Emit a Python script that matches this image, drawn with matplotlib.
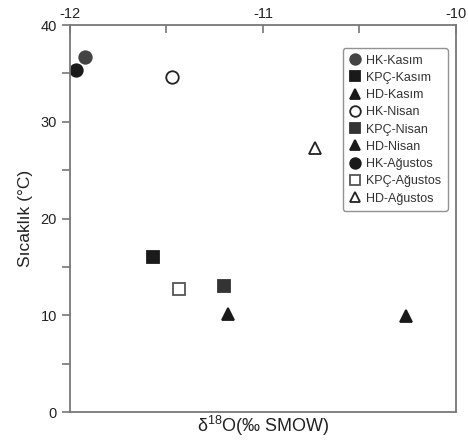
import matplotlib
matplotlib.use("Agg")
from matplotlib import pyplot as plt
from matplotlib.ticker import MultipleLocator

plt.rcParams["font.family"] = ["Liberation Sans", "DejaVu Sans"]

# series: label, x (d18O), y (temperature)
labels = ["HK-Kasım", "KPÇ-Kasım", "HD-Kasım",
          "HK-Nisan", "KPÇ-Nisan", "HD-Nisan",
          "HK-Ağustos", "KPÇ-Ağustos", "HD-Ağustos"]
x_vals = [-11.92, -11.57, -11.18,
          -11.47, -11.20, -10.26,
          -11.97, -11.435, -10.73]
y_vals = [36.7, 16.0, 10.1,
          34.6, 13.0, 9.9,
          35.4, 12.7, 27.3]

markers = ["o", "s", "^", "o", "s", "^", "o", "s", "^"]
faces = ["#444444", "#1a1a1a", "#1a1a1a",
         "white", "#333333", "#1a1a1a",
         "#1a1a1a", "white", "white"]
edges = ["#444444", "#1a1a1a", "#1a1a1a",
         "#222222", "#333333", "#1a1a1a",
         "#1a1a1a", "#555555", "#222222"]

fig = plt.figure(figsize=(4.68, 4.4), dpi=100)
ax = fig.add_axes([0.1496, 0.0636, 0.8244, 0.8794])

for i in range(len(labels)):
    ax.plot(x_vals[i], y_vals[i], ls="none", marker=markers[i], ms=9,
            mfc=faces[i], mec=edges[i], mew=1.3, label=labels[i])

ax.set_xlim(-12, -10)
ax.set_ylim(0, 40)

ax.xaxis.tick_top()
ax.xaxis.set_minor_locator(MultipleLocator(0.5))
ax.yaxis.set_minor_locator(MultipleLocator(5))
ax.tick_params(axis="x", which="both", direction="in", length=6, width=1.2,
               color="#777777", labelsize=10.5, pad=3, labelcolor="#222222")
ax.tick_params(axis="y", which="both", direction="out", length=6, width=1.2,
               color="#777777", labelsize=10.5, labelcolor="#222222")
ax.set_xticks([-12, -11, -10])
ax.set_xticklabels(["-12", "-11", "-10"])
ax.set_yticks([0, 10, 20, 30, 40])

for s in ax.spines.values():
    s.set_color("#777777")
    s.set_linewidth(1.3)

ax.set_ylabel("Sıcaklık (°C)", fontsize=12.5, labelpad=5, color="#222222")
ax.set_xlabel("δ$^{\\mathregular{18}}$O(‰ SMOW)", fontsize=13, labelpad=1,
              color="#222222")
ax.xaxis.set_label_position("bottom")

leg = ax.legend(loc="upper right", bbox_to_anchor=(0.979, 0.94), fontsize=9,
                handletextpad=0.4, labelspacing=0.42, borderpad=0.5,
                handlelength=1.0, markerscale=0.85, fancybox=True,
                frameon=True, borderaxespad=0)
leg.get_frame().set_edgecolor("#777777")
leg.get_frame().set_linewidth(1.0)
for t in leg.get_texts():
    t.set_color("#333333")

fig.savefig("out.png", dpi=100)
